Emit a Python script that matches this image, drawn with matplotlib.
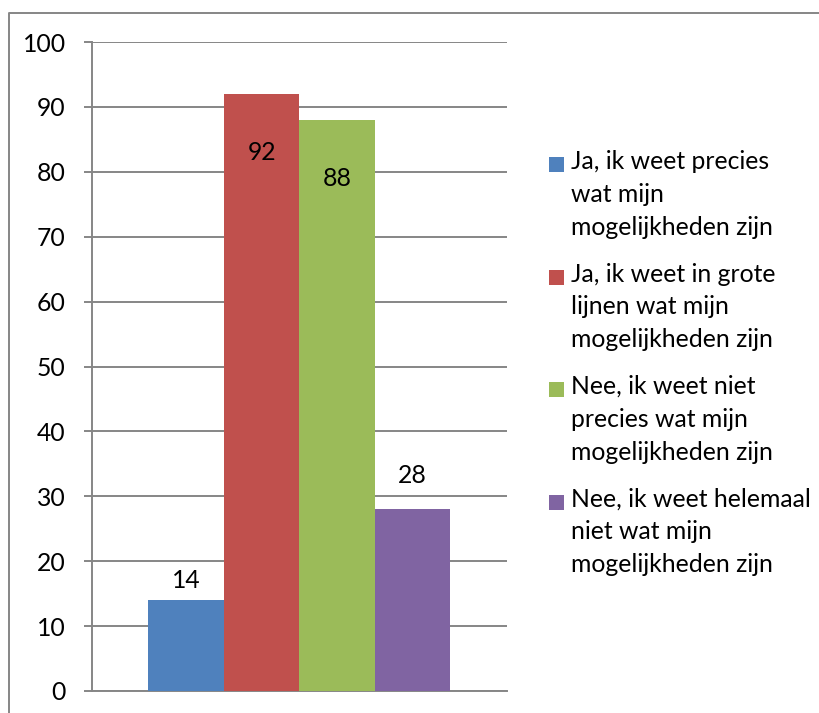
import numpy as np
import matplotlib
matplotlib.use("Agg")
import matplotlib.pyplot as plt
from matplotlib.patches import Rectangle
from matplotlib.lines import Line2D

# Survey answers and counts
categories = [
    "Ja, ik weet precies\nwat mijn\nmogelijkheden zijn",
    "Ja, ik weet in grote\nlijnen wat mijn\nmogelijkheden zijn",
    "Nee, ik weet niet\nprecies wat mijn\nmogelijkheden zijn",
    "Nee, ik weet helemaal\nniet wat mijn\nmogelijkheden zijn",
]
values = [14, 92, 88, 28]
yticks = [0, 10, 20, 30, 40, 50, 60, 70, 80, 90, 100]

colors = ["#4F81BD", "#C0504D", "#9BBB59", "#8064A2"]
gray = "#868686"
plt.rcParams["font.family"] = ["Lato", "DejaVu Sans"]
fs = 17.8

W, H = 820, 713
fig = plt.figure(figsize=(W / 100, H / 100), dpi=100)

# plot area in pixel terms
left, right, top, bottom = 92, 507, 42, 691
ax = fig.add_axes([left / W, 1 - bottom / H, (right - left) / W, (bottom - top) / H])

bar_w = 75.5 / (right - left)
xpos = (np.arange(len(values)) - (len(values) - 1) / 2) * bar_w
ax.bar(xpos, values, width=bar_w, color=colors, linewidth=0, zorder=3)
ax.set_xlim(-0.5, 0.5)
ax.set_ylim(0, 100)
ax.set_yticks(yticks)
ax.yaxis.grid(True, color=gray, lw=1.4)
ax.set_axisbelow(True)
for s in ["top", "right"]:
    ax.spines[s].set_visible(False)
for s in ["left", "bottom"]:
    ax.spines[s].set_color(gray)
    ax.spines[s].set_linewidth(1.4)
ax.tick_params(axis="y", length=6, width=1.4, color=gray, pad=13, labelsize=fs)
ax.tick_params(axis="x", bottom=False, labelbottom=False)

# value labels: offset from the bar top, in pixels (negative = inside the bar)
label_dy_px = [20, -59, -59, 34]
for x, v, dy in zip(xpos, values, label_dy_px):
    ax.annotate(str(v), xy=(x, v), xytext=(0, dy * 0.72), textcoords="offset points",
                ha="center", va="center", fontsize=fs, zorder=4)

# legend drawn beside the plot area
for i, (lab, c) in enumerate(zip(categories, colors)):
    ytop = 157 + 112.5 * i
    fig.patches.append(Rectangle((549 / W, 1 - (ytop + 15) / H), 15 / W, 15 / H,
                                 transform=fig.transFigure, facecolor=c, edgecolor="none"))
    fig.text(571 / W, 1 - (ytop - 7) / H, lab, ha="left", va="top",
             fontsize=fs, linespacing=1.52)

# outer chart frame
fig.add_artist(Line2D([9 / W, 9 / W, 1.0], [0.0, 1 - 12.5 / H, 1 - 12.5 / H],
                      transform=fig.transFigure, color=gray, lw=1.4))

fig.savefig("out.png", dpi=100)
